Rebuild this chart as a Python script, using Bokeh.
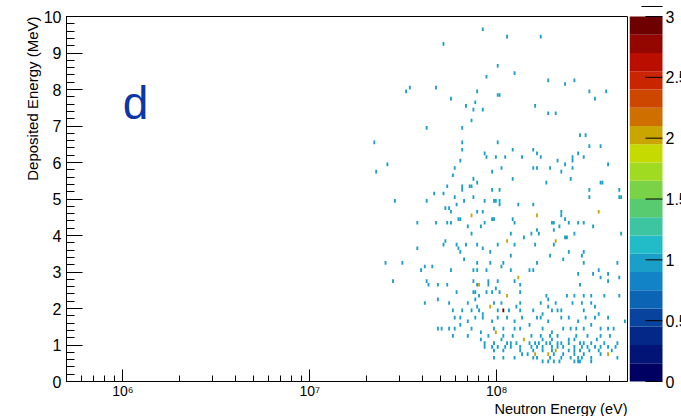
import numpy as np
import pandas as pd
from bokeh.plotting import figure
from bokeh.models import (Range1d, FixedTicker, SingleIntervalTicker, Label, Title, ColumnDataSource)
from bokeh.layouts import row, column
from bokeh.transform import linear_cmap
from bokeh.core.properties import value
from bokeh.embed import file_html
from bokeh.resources import INLINE

# ---------------- data ----------------
# log10 of neutron energy (eV) and deposited energy (MeV) of filled cells with content 1
log10_neutron_energy = [
    # upper region
    7.923, 8.052, 8.233, 7.711, 8.002, 8.098, 7.941, 8.274, 8.369, 8.412, 7.515, 7.534, 7.672, 7.891,
    8.004, 8.014, 8.493, 8.582, 7.753, 8.523, 7.884, 7.833, 7.873, 7.923, 8.200, 8.274, 8.313,
    # 4.5 - 7.2 MeV
    7.869, 7.627, 7.819, 7.340, 7.810, 8.002, 8.446, 8.472, 8.498, 8.552, 7.810, 8.081, 8.197, 8.210,
    7.934, 7.941, 7.991, 8.043, 8.133, 8.237, 8.402, 8.402, 8.434, 8.461, 8.323, 7.412, 7.801, 8.591,
    8.369, 7.351, 7.770, 8.022, 8.195, 8.213, 8.283, 8.402, 7.972, 8.344, 7.762, 7.871, 7.899, 8.081,
    8.392, 8.263, 8.555, 8.565, 7.731, 7.819, 7.851, 7.864, 7.810, 7.972, 8.014, 7.663, 7.717, 8.498,
    8.652, 7.770, 7.876, 7.450, 7.620, 7.935, 7.982, 7.996, 8.014, 8.657, 8.667, 8.493, 7.783, 7.720,
    7.742, 7.758, 7.826, 8.017, 8.111, 8.192, 7.899, 7.923, 8.340, 8.541, 8.213,
    # 2.3 - 4.6 MeV
    7.570, 7.679, 7.731, 7.753, 7.797, 7.808, 7.849, 7.914, 7.934, 7.973, 7.989, 8.084, 8.095, 8.211,
    8.296, 8.305, 8.335, 8.344, 8.362, 8.382, 8.434, 8.461, 8.510, 8.542,
    7.860, 8.070, 8.141, 8.183, 8.210, 8.220, 8.301, 8.366, 8.410, 8.663,
    7.717, 7.722, 7.780, 7.794, 7.833, 7.892, 7.925, 7.961, 8.004, 8.090, 8.200, 8.305, 8.373, 8.383,
    8.464, 7.579, 7.803,
    8.070, 8.289, 8.355, 8.452, 7.824, 7.403, 7.491, 7.964, 7.892, 8.039, 8.213, 8.461, 8.640,
    7.591, 7.618, 7.651, 7.753, 7.875, 7.896, 7.941, 8.028, 8.070, 8.170, 8.191, 8.434, 8.517, 8.555,
    8.591, 8.546, 8.654,
    7.442, 7.627, 7.636, 7.681, 7.735, 7.871, 7.894, 7.952, 7.955, 8.000, 8.098, 8.129, 8.443, 8.591,
    7.788, 7.878, 7.887, 7.907, 7.941, 7.972, 7.995, 8.012, 8.122, 8.263, 8.371, 8.416, 8.466, 8.505,
    8.572, 8.657,
    # 0.5 - 2.3 MeV
    7.615, 7.685, 7.747, 7.842, 7.882, 7.986, 8.027, 8.129, 8.236, 8.272, 8.319, 8.408, 8.455, 8.505,
    7.762, 7.815, 7.864, 7.892, 7.900, 7.923, 8.004, 8.066, 8.106, 8.129, 8.192, 8.245, 8.272, 8.290,
    8.326, 8.348, 8.469, 8.523, 8.541,
    7.771, 7.806, 7.842, 7.887, 7.928, 7.977, 8.000, 8.057, 8.097, 8.138, 8.210, 8.233, 8.276, 8.344,
    8.380, 8.434, 8.473, 8.523, 8.595, 8.684,
    7.681, 7.708, 7.744, 7.771, 7.806, 7.860, 7.910, 7.986, 8.039, 8.093, 8.129, 8.174, 8.245, 8.299,
    8.353, 8.398, 8.425, 8.466, 8.505, 8.559, 8.595, 8.622,
    7.767, 7.842, 7.918, 7.959, 8.039, 8.089, 8.147, 8.186, 8.236, 8.281, 8.326, 8.380, 8.425, 8.487,
    8.559, 8.604,
    7.935, 7.982, 8.021, 8.057, 8.075, 8.102, 8.147, 8.174, 8.201, 8.228, 8.245, 8.263, 8.281, 8.299,
    8.326, 8.344, 8.380, 8.416, 8.443, 8.469, 8.505, 8.532, 8.577, 8.640,
    7.932, 7.977, 8.007, 8.043, 8.075, 8.120, 8.183, 8.219, 8.245, 8.294, 8.326, 8.353, 8.416, 8.452,
    8.487, 8.523, 8.559, 8.591, 8.631,
    7.986, 8.036, 8.125, 8.165, 8.192, 8.245, 8.290, 8.355, 8.389, 8.416, 8.443, 8.466, 8.496, 8.541,
    8.616,
    7.986, 8.039, 8.093, 8.138, 8.192, 8.219, 8.281, 8.308, 8.344, 8.394, 8.416, 8.434, 8.452, 8.505,
    8.550, 8.649,
    8.245, 8.272, 8.308, 8.335, 8.416, 8.430, 8.443, 8.505,
]
deposited_energy_mev = [
    9.67, 9.46, 9.46, 9.26, 8.67, 8.47, 8.38, 8.25, 8.16, 8.25, 7.98, 8.05, 8.05, 7.96,
    7.84, 7.84, 7.96, 7.96, 7.75, 7.75, 7.66, 7.54, 7.46, 7.46, 7.54, 7.34, 7.34,
    7.15, 6.94, 6.94, 6.56, 6.56, 6.56, 6.74, 6.74, 6.45, 6.45, 6.35, 6.35, 6.35, 6.27,
    6.24, 6.15, 6.15, 6.15, 6.15, 6.15, 6.15, 6.05, 6.24, 6.15, 6.05, 5.94, 6.05, 5.94,
    5.94, 5.75, 5.85, 5.85, 5.85, 5.85, 5.85, 5.85, 5.75, 5.75, 5.62, 5.55, 5.46, 5.55,
    5.55, 5.46, 5.46, 5.46, 5.34, 5.34, 5.34, 5.34, 5.26, 5.26, 5.26, 5.14, 5.14, 5.26,
    5.26, 5.02, 5.02, 4.94, 4.94, 4.94, 4.94, 4.94, 4.94, 5.03, 5.03, 5.05, 4.84, 4.75,
    4.75, 4.66, 4.94, 4.84, 4.84, 4.84, 4.66, 4.66, 4.66, 4.66, 4.57,
    4.34, 4.34, 4.34, 4.34, 4.43, 4.43, 4.25, 4.25, 4.34, 4.43, 4.43, 4.43, 4.34, 4.54,
    4.34, 4.34, 4.25, 4.54, 4.43, 4.34, 4.34, 4.34, 4.25, 4.64,
    4.03, 4.03, 3.94, 4.03, 4.12, 4.03, 4.12, 3.94, 4.03, 4.03,
    3.75, 3.82, 3.75, 3.66, 3.75, 3.75, 3.64, 3.54, 3.75, 3.75, 3.75, 3.75, 3.94, 3.54,
    3.54, 3.64, 3.54,
    3.45, 3.45, 3.36, 3.45, 3.33, 3.25, 3.25, 3.25, 3.25, 3.25, 3.25, 3.25, 3.25,
    3.04, 3.13, 3.13, 3.04, 3.04, 3.04, 3.04, 3.13, 3.04, 3.04, 3.04, 2.95, 2.95, 2.86,
    2.95, 3.04, 2.86,
    2.75, 2.75, 2.63, 2.66, 2.66, 2.75, 2.66, 2.75, 2.63, 2.75, 2.75, 2.66, 2.66, 2.75,
    2.40, 2.49, 2.40, 2.33, 2.49, 2.45, 2.54, 2.40, 2.40, 2.33, 2.33, 2.33, 2.33, 2.33,
    2.33, 2.33,
    2.16, 2.22, 2.13, 2.16, 2.24, 2.16, 2.10, 2.19, 2.16, 2.22, 2.13, 2.16, 2.19, 2.10,
    1.95, 1.98, 1.92, 2.01, 1.95, 1.89, 1.95, 1.98, 2.04, 1.92, 1.95, 1.89, 2.01, 1.95,
    1.98, 1.92, 1.95, 2.01, 1.89,
    1.72, 1.78, 1.69, 1.75, 1.72, 1.66, 1.78, 1.72, 1.69, 1.75, 1.72, 1.78, 1.66, 1.72,
    1.75, 1.69, 1.72, 1.78, 1.72, 1.66,
    1.44, 1.47, 1.41, 1.44, 1.50, 1.44, 1.38, 1.47, 1.44, 1.41, 1.44, 1.50, 1.44, 1.38,
    1.44, 1.47, 1.41, 1.44, 1.50, 1.44, 1.41, 1.47,
    1.21, 1.24, 1.18, 1.21, 1.27, 1.21, 1.18, 1.24, 1.21, 1.27, 1.21, 1.18, 1.24, 1.21,
    1.27, 1.21,
    1.08, 1.05, 1.11, 1.08, 1.05, 1.08, 1.11, 1.08, 1.05, 1.08, 1.11, 1.05, 1.08, 1.11,
    1.08, 1.05, 1.08, 1.11, 1.08, 1.05, 1.08, 1.11, 1.08, 1.05,
    0.94, 0.91, 0.97, 0.94, 0.91, 0.94, 0.97, 0.91, 0.94, 0.97, 0.94, 0.91, 0.94, 0.97,
    0.91, 0.94, 0.97, 0.94, 0.91,
    0.82, 0.85, 0.82, 0.79, 0.82, 0.85, 0.82, 0.79, 0.82, 0.85, 0.82, 0.79, 0.85, 0.82,
    0.82,
    0.69, 0.66, 0.69, 0.72, 0.69, 0.66, 0.69, 0.72, 0.66, 0.69, 0.72, 0.69, 0.66, 0.69,
    0.72, 0.69,
    0.58, 0.58, 0.55, 0.58, 0.58, 0.55, 0.58, 0.58,
]
# cells with higher content
hot_log10_energy = [7.860, 8.052, 8.317, 8.058, 8.111, 7.909, 7.964, 8.034, 7.995, 8.200, 8.272, 8.317, 8.595]
hot_deposited_mev = [4.59, 3.82, 3.82, 2.33, 2.81, 2.66, 2.02, 1.95, 1.31, 0.71, 0.71, 0.80, 0.74]
hot_counts = [2, 2, 2, 2, 2, 2, 2, 3, 2, 2, 2, 2, 2]

x_major_ticks = [1e6, 1e7, 1e8]
x_tick_labels = {1e6: "10\u2076", 1e7: "10\u2077", 1e8: "10\u2078"}
z_ticks = [0, 0.5, 1, 1.5, 2, 2.5, 3]
z_tick_labels = ["0", "0.5", "1", "1.5", "2", "2.5", "3"]
x_title = "Neutron Energy (eV)"
y_title = "Deposited Energy (MeV)"

# ROOT rainbow palette, 20 contour levels between 0 and 3
palette = ["#000063", "#021475", "#042887", "#08449d", "#0c64b4", "#1183c6", "#1aa0c8",
           "#22bcc9", "#3cc5a0", "#58cb71", "#7ad247", "#a1db21", "#c5db00", "#caa500",
           "#cf6f00", "#cd4700", "#c92500", "#b90e00", "#940700", "#6e0000"]
Z_LOW, Z_HIGH = 0.0, 3.0

assert len(log10_neutron_energy) == len(deposited_energy_mev)

# ---------------- histogram binning ----------------
LOG_MIN, LOG_BIN = 5.7, 0.01   # 100 bins per decade
E_BIN = 0.1                    # 0.1 MeV bins
le = np.array(log10_neutron_energy + hot_log10_energy)
ed = np.array(deposited_energy_mev + hot_deposited_mev)
cnt = np.array([1] * len(log10_neutron_energy) + hot_counts, dtype=float)
ix = np.floor((le - LOG_MIN) / LOG_BIN + 1e-9).astype(int)
iy = np.floor(ed / E_BIN + 1e-9).astype(int)
df = pd.DataFrame(dict(ix=ix, iy=iy, c=cnt)).groupby(["ix", "iy"], as_index=False)["c"].sum()
df["left"] = 10 ** (LOG_MIN + df.ix * LOG_BIN)
df["right"] = 10 ** (LOG_MIN + (df.ix + 1) * LOG_BIN)
df["bottom"] = df.iy * E_BIN
df["top"] = (df.iy + 1) * E_BIN
src = ColumnDataSource(df)

FONT = "Liberation Sans"
TOP_PAD, BOT_PAD = 16, 35

# ---------------- main plot ----------------
p = figure(width=629, height=416, x_axis_type="log",
           x_range=Range1d(5e5, 5e8), y_range=Range1d(0, 10),
           output_backend="svg", toolbar_location=None,
           min_border_left=66, min_border_right=2, min_border_top=TOP_PAD, min_border_bottom=BOT_PAD)
p.quad(left="left", right="right", bottom="bottom", top="top", source=src,
       fill_color=linear_cmap("c", palette, Z_LOW, Z_HIGH), line_color=None)

p.xgrid.visible = False
p.ygrid.visible = False
p.outline_line_color = "black"
p.outline_line_alpha = 1.0
p.outline_line_width = 1
p.background_fill_color = "white"
p.border_fill_color = "white"

x_minor = [m * 10.0 ** d for d in (5, 6, 7, 8) for m in range(2, 10) if 5e5 < m * 10.0 ** d < 5e8]
p.xaxis.ticker = FixedTicker(ticks=x_major_ticks, minor_ticks=x_minor)
p.xaxis.major_label_overrides = x_tick_labels
p.xaxis.major_tick_in = 12
p.xaxis.major_tick_out = 0
p.xaxis.minor_tick_in = 6
p.xaxis.minor_tick_out = 0
p.xaxis.major_label_standoff = 1
p.xaxis.major_label_text_font_size = "14px"

p.yaxis.ticker = SingleIntervalTicker(interval=1, num_minor_ticks=5)
p.yaxis.major_tick_in = 16
p.yaxis.major_tick_out = 0
p.yaxis.minor_tick_in = 8
p.yaxis.minor_tick_out = 0
p.yaxis.major_label_standoff = 5
p.yaxis.major_label_text_font_size = "16px"

for ax in (p.xaxis, p.yaxis):
    ax.axis_line_color = "black"
    ax.major_tick_line_color = "black"
    ax.minor_tick_line_color = "black"
    ax.major_label_text_font = FONT
    ax.major_label_text_color = "black"

# axis titles (ROOT style: flush with the end of the axis)
p.add_layout(Title(text=x_title, align="right", text_font=FONT, text_font_size="14.5px",
                   text_font_style="normal", text_color="black", standoff=-5), "below")
p.add_layout(Title(text=y_title, align="right", text_font=FONT, text_font_size="15px",
                   text_font_style="normal", text_color="black", standoff=0), "left")

p.add_layout(Label(x=1e6, y=7.62, text="d", text_align="left", text_baseline="alphabetic",
                   text_font=FONT, text_font_size="46px", text_color="#0b37a8"))

# ---------------- colour scale ----------------
zr = Z_HIGH - Z_LOW
BAR_H = 416 - TOP_PAD - BOT_PAD
cb = figure(width=52, height=416, x_range=Range1d(0, 52),
            y_range=Range1d(Z_LOW - BOT_PAD * zr / BAR_H, Z_HIGH + TOP_PAD * zr / BAR_H),
            output_backend="svg", toolbar_location=None,
            min_border_left=0, min_border_right=0, min_border_top=0, min_border_bottom=0,
            x_axis_location=None, y_axis_location=None)
cb.xgrid.visible = False
cb.ygrid.visible = False
cb.outline_line_color = None
cb.background_fill_color = "white"
cb.border_fill_color = "white"
levels = np.linspace(Z_LOW, Z_HIGH, len(palette) + 1)
cb.quad(left=0, right=33, bottom=levels[:-1], top=levels[1:], fill_color=palette, line_color=None)
cb.segment(x0=16, x1=33, y0=z_ticks, y1=z_ticks, line_color="black", line_width=1)
top_mark = Z_HIGH + 10 * zr / BAR_H
cb.segment(x0=[12], x1=[33], y0=[top_mark], y1=[top_mark], line_color="black", line_width=1)
cb.text(x=[36] * len(z_ticks), y=z_ticks, text=z_tick_labels, text_baseline="middle",
        text_align="left", text_font=value(FONT), text_font_size="16px", text_color="black")

layout = row(p, column(cb, spacing=0), spacing=0)
open("out.html", "w").write(file_html(layout, INLINE))
